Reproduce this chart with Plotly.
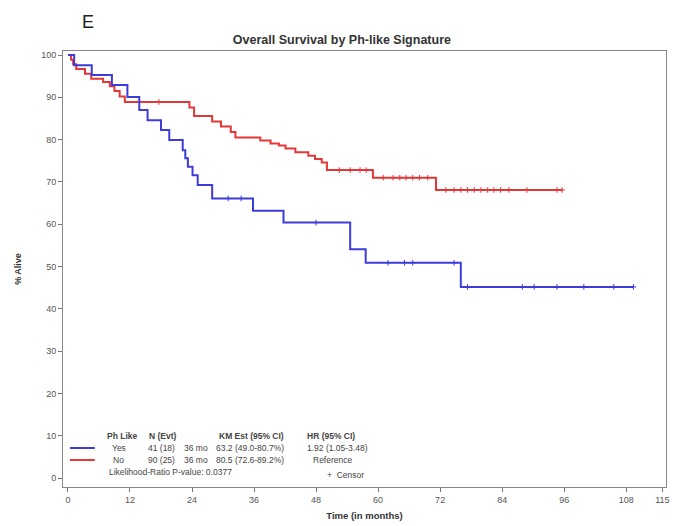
import plotly.graph_objects as go

# Kaplan-Meier step curves: (months, % alive) at each step
yes_times = [0, 1.2, 4.6, 8.5, 11.5, 13.8, 15.4, 18.0, 19.6, 22.2, 22.7, 23.2,
             24.1, 25.1, 27.9, 35.8, 41.7, 54.6, 57.6, 76.0, 109.4]
yes_surv = [100, 97.6, 95.3, 92.9, 90.1, 87.0, 84.6, 82.3, 79.9, 77.5, 75.6, 73.6,
            71.6, 69.3, 66.1, 63.2, 60.4, 54.1, 50.9, 45.2, 45.2]
yes_censor = [31.0, 33.5, 48.0, 61.9, 65.1, 66.7, 74.7, 77.3, 87.9, 90.2, 94.6,
              99.8, 105.6, 109.4]

no_times = [0, 0.6, 1.0, 1.6, 3.3, 4.5, 6.8, 8.1, 9.0, 10.0, 11.0, 23.5, 24.4,
            27.9, 29.6, 31.5, 32.4, 37.2, 39.2, 40.8, 42.1, 44.0, 46.5, 47.8,
            49.1, 50.1, 59.0, 71.2, 95.6]
no_surv = [100, 98.9, 97.8, 96.7, 95.6, 94.4, 93.6, 92.6, 91.5, 90.2, 88.9, 87.6,
           85.6, 84.3, 83.1, 81.8, 80.5, 79.8, 79.1, 78.6, 77.9, 77.0, 76.2, 75.4,
           74.6, 72.8, 71.0, 68.1, 68.1]
no_censor = [17.6, 52.5, 54.6, 56.5, 57.7, 61.0, 62.9, 64.2, 65.4, 66.7, 68.0,
             69.6, 73.1, 74.7, 76.0, 77.3, 78.6, 79.9, 81.2, 82.4, 83.7, 85.3,
             88.8, 94.6, 95.6]

x_ticks = [0, 12, 24, 36, 48, 60, 72, 84, 96, 108, 115]
y_ticks = [0, 10, 20, 30, 40, 50, 60, 70, 80, 90, 100]

BLUE = "rgb(60,60,218)"
RED = "rgb(228,55,55)"
FONT = "Liberation Sans, Arial, sans-serif"


def surv_at(times, surv, t):
    val = surv[0]
    for ti, si in zip(times, surv):
        if ti <= t:
            val = si
    return val


fig = go.Figure()
for times, surv, cens, col in [(no_times, no_surv, no_censor, RED),
                               (yes_times, yes_surv, yes_censor, BLUE)]:
    fig.add_trace(go.Scatter(x=times, y=surv, mode="lines",
                             line=dict(color=col, width=2, shape="hv"),
                             hoverinfo="skip", showlegend=False))
    fig.add_trace(go.Scatter(x=cens, y=[surv_at(times, surv, t) for t in cens],
                             mode="markers",
                             marker=dict(symbol="cross-thin", size=4,
                                         line=dict(color=col, width=1)),
                             showlegend=False))

# plot-area pixel geometry used for the in-plot legend table
FW, FH = 677, 526
L, T, W, H = 63, 51, 607, 436


def px(x):
    return (x - L) / W


def py(y):
    return 1 - (y - T) / H


ann = []


def txt(x, y, s, bold=False, anchor="left", size=8.5, color="#444"):
    ann.append(dict(x=px(x), y=py(y), xref="paper", yref="paper", text=s,
                    showarrow=False, xanchor=anchor, yanchor="middle",
                    font=dict(family=FONT, size=size, color=color,
                              weight="bold" if bold else "normal")))


txt(105, 436, "Ph Like", True)
txt(148, 436, "N (Evt)", True)
txt(218, 436, "KM Est (95% CI)", True)
txt(307, 436, "HR (95% CI)", True)
txt(119, 448, "Yes", anchor="center")
txt(147, 448, "41 (18)")
txt(183, 448, "36 mo")
txt(215, 448, "63.2 (49.0-80.7%)")
txt(307, 448, "1.92 (1.05-3.48)")
txt(119, 460, "No", anchor="center")
txt(147, 460, "90 (25)")
txt(183, 460, "36 mo")
txt(215, 460, "80.5 (72.6-89.2%)")
txt(313, 460, "Reference")
txt(107, 472, "Likelihood-Ratio P-value: 0.0377")
txt(327, 475, "+  Censor")
# panel letter
txt(80, 22, "E", size=18, color="#222")

shapes = [
    dict(type="line", xref="paper", yref="paper", x0=px(70), x1=px(95),
         y0=py(448), y1=py(448), line=dict(color=BLUE, width=2)),
    dict(type="line", xref="paper", yref="paper", x0=px(70), x1=px(95),
         y0=py(460), y1=py(460), line=dict(color=RED, width=2)),
]

fig.update_layout(
    width=FW, height=FH,
    margin=dict(l=L, r=FW - L - W, t=T, b=FH - T - H),
    paper_bgcolor="white", plot_bgcolor="white",
    title=dict(text="<b>Overall Survival by Ph-like Signature</b>",
               x=0.505, xref="container", xanchor="center",
               y=1 - 40 / FH, yref="container", yanchor="middle",
               font=dict(family=FONT, size=12.5, color="#333")),
    annotations=ann, shapes=shapes,
    xaxis=dict(range=[-0.96, 115.7], tickvals=x_ticks, ticks="outside",
               ticklen=4, tickcolor="#777", showgrid=False, zeroline=False,
               showline=True, linecolor="#888", mirror=True,
               tickfont=dict(family=FONT, size=9, color="#555"),
               title=dict(text="<b>Time (in months)</b>", standoff=8,
                          font=dict(family=FONT, size=9.5, color="#333"))),
    yaxis=dict(range=[-2.1, 100.95], tickvals=y_ticks, ticks="outside",
               ticklen=4, tickcolor="#777", showgrid=False, zeroline=False,
               showline=True, linecolor="#888", mirror=True,
               tickfont=dict(family=FONT, size=9, color="#555"),
               title=dict(text="<b>% Alive</b>", standoff=18,
                          font=dict(family=FONT, size=9, color="#333"))),
)
fig.write_html("out.html")
